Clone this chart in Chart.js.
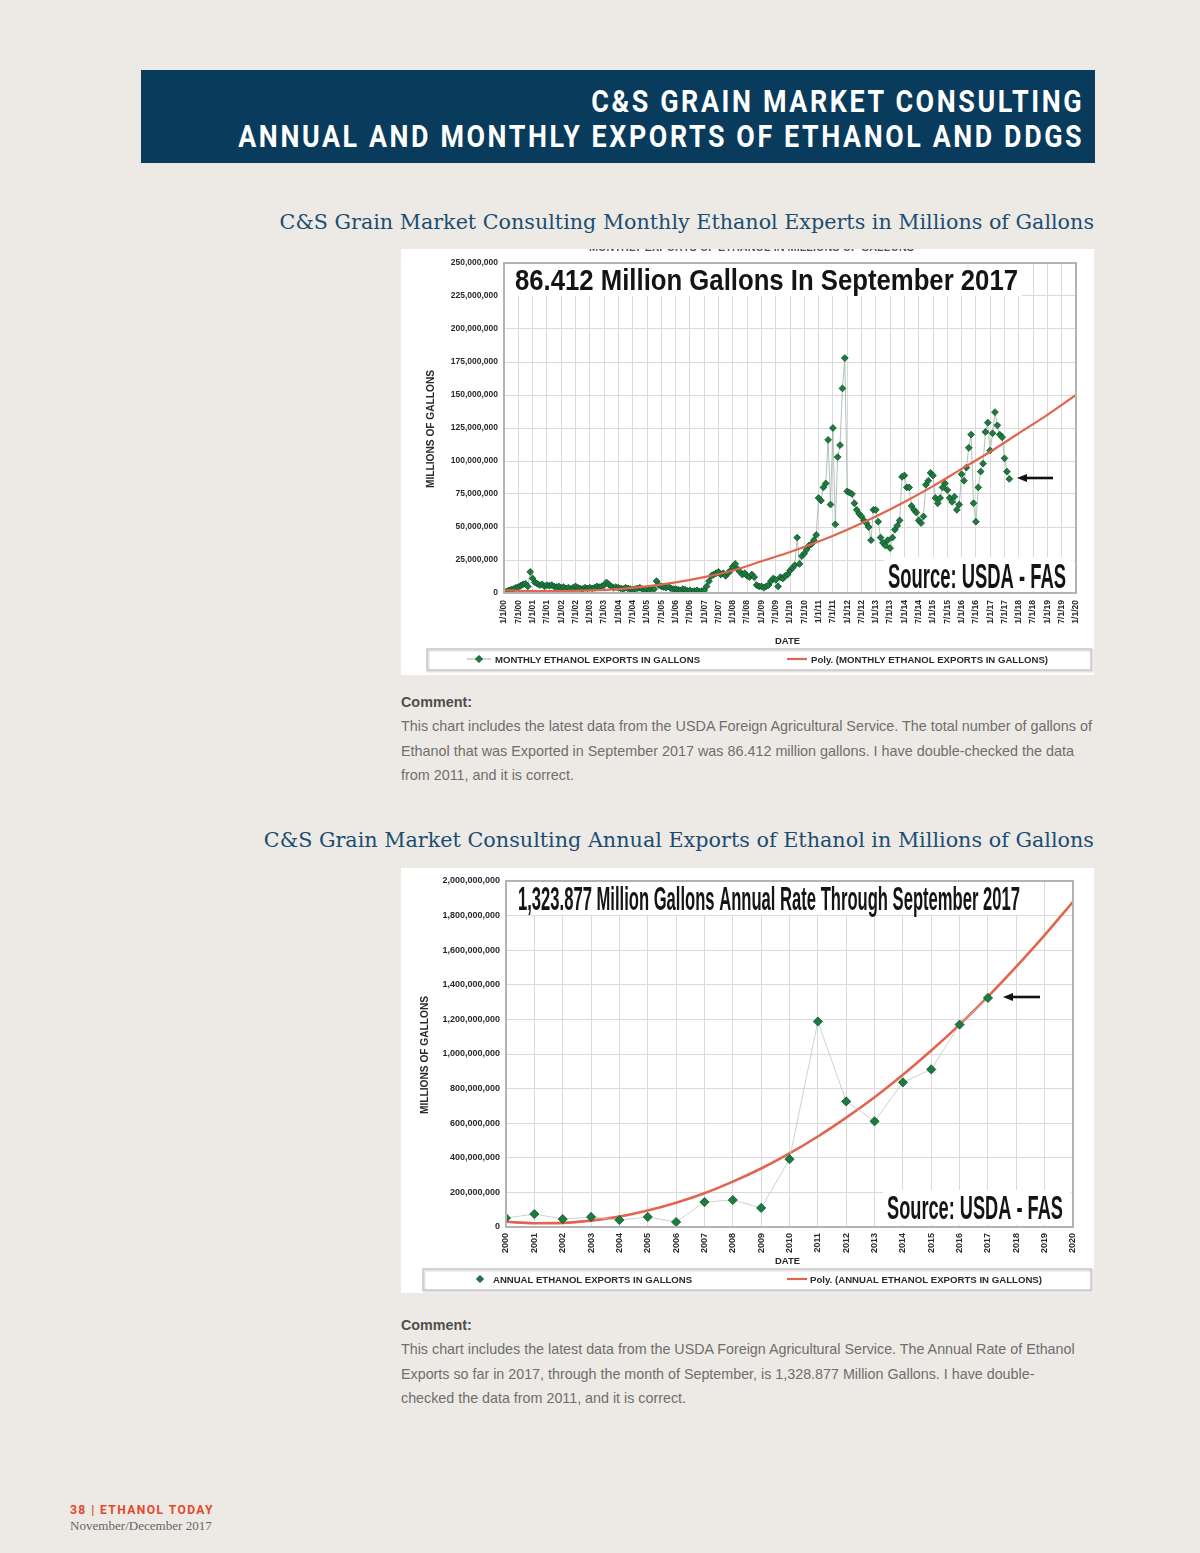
<!DOCTYPE html>
<html lang="en">
<head>
<meta charset="utf-8">
<title>Annual and Monthly Exports of Ethanol and DDGS</title>
<script src="https://cdn.jsdelivr.net/npm/chart.js@4.4.1/dist/chart.umd.min.js"></script>
<style>
  html, body { margin: 0; padding: 0; }
  body { width: 1200px; height: 1553px; background: #edeae5; position: relative; overflow: hidden; }
  .banner { position: absolute; left: 141px; top: 70px; width: 954px; height: 93px; background: #083b5c; }
  .banner div { position: absolute; right: 11px; color: #fff; font: 700 31px/31px Roboto, "Liberation Sans", sans-serif; letter-spacing: 3px; white-space: nowrap; transform-origin: 100% 50%; }
  .sect { position: absolute; right: 106px; color: #1b4d72; font-family: "DejaVu Serif", serif; line-height: 1; white-space: nowrap; }
  .box { position: absolute; left: 401px; width: 693px; background: #fff; }
  .box canvas { display: block; }
  .cm { position: absolute; left: 401px; color: #6e6e6e; font-family: "Liberation Sans", Arial, sans-serif; line-height: 1; white-space: nowrap; }
  .cm.b { color: #4e4e4e; font-weight: 700; }
  .foot1 { position: absolute; left: 70px; color: #e2482a; font: 700 13px/1 Roboto, sans-serif; letter-spacing: 1.5px; white-space: nowrap; transform-origin: 0 50%; }
  .foot2 { position: absolute; left: 70px; color: #666; font-family: "Liberation Serif", serif; line-height: 1; white-space: nowrap; }
</style>
</head>
<body>
<div class="banner">
  <div id="h1">C&amp;S GRAIN MARKET CONSULTING</div>
  <div id="h2">ANNUAL AND MONTHLY EXPORTS OF ETHANOL AND DDGS</div>
</div>

<div class="sect" id="t1">C&amp;S Grain Market Consulting Monthly Ethanol Experts in Millions of Gallons</div>
<div class="box" style="top:249px;height:426px"><canvas id="monthly" width="693" height="426"></canvas></div>
<div class="cm b" id="c1h">Comment:</div>
<div class="cm c1" id="c1a">This chart includes the latest data from the USDA Foreign Agricultural Service. The total number of gallons of</div>
<div class="cm c1" id="c1b">Ethanol that was Exported in September 2017 was 86.412 million gallons. I have double-checked the data</div>
<div class="cm c1" id="c1c">from 2011, and it is correct.</div>

<div class="sect" id="t2">C&amp;S Grain Market Consulting Annual Exports of Ethanol in Millions of Gallons</div>
<div class="box" style="top:868px;height:425px"><canvas id="annual" width="693" height="425"></canvas></div>
<div class="cm b" id="c2h">Comment:</div>
<div class="cm c2" id="c2a">This chart includes the latest data from the USDA Foreign Agricultural Service. The Annual Rate of Ethanol</div>
<div class="cm c2" id="c2b">Exports so far in 2017, through the month of September, is 1,328.877 Million Gallons. I have double-</div>
<div class="cm c2" id="c2c">checked the data from 2011, and it is correct.</div>

<div class="foot1" id="f1">38 | ETHANOL TODAY</div>
<div class="foot2" id="f2">November/December 2017</div>

<script>
/* --------------- Monthly chart data (millions of gallons) --------------- */
const monthLabels = [
  "1/1/00", "7/1/00", "1/1/01", "7/1/01", "1/1/02", "7/1/02", "1/1/03", "7/1/03",
  "1/1/04", "7/1/04", "1/1/05", "7/1/05", "1/1/06", "7/1/06", "1/1/07", "7/1/07",
  "1/1/08", "7/1/08", "1/1/09", "7/1/09", "1/1/10", "7/1/10", "1/1/11", "7/1/11",
  "1/1/12", "7/1/12", "1/1/13", "7/1/13", "1/1/14", "7/1/14", "1/1/15", "7/1/15",
  "1/1/16", "7/1/16", "1/1/17", "7/1/17", "1/1/18", "7/1/18", "1/1/19", "7/1/19",
  "1/1/20",
];
const monthlyYLabels = ["0", "25,000,000", "50,000,000", "75,000,000", "100,000,000", "125,000,000",
  "150,000,000", "175,000,000", "200,000,000", "225,000,000", "250,000,000"];
// Jan 2000 .. Sep 2017, one row per year
const monthlyExports = [
  1.5, 1, 2, 2.5, 3, 4, 4.5, 5.5, 6.5, 7, 5, 16,
  11, 8, 7, 6, 6.5, 5, 6, 5.5, 6, 5, 4.5, 5,
  4, 4.5, 3.5, 4, 3, 4, 5, 4, 3.5, 3, 4, 3.5,
  4, 3.5, 4, 5, 4.5, 5, 6, 8, 6.5, 5, 4, 4.5,
  4, 3.5, 3, 4, 3.5, 3, 2.5, 3, 3.5, 4, 3, 2.5,
  3, 2.5, 3.5, 3, 9, 6, 5, 4.5, 4, 5, 3.5, 3,
  3, 2.5, 2, 3, 2.5, 1.5, 2, 1, 1.5, 2, 1, 1.5,
  2, 5, 9, 13, 14, 15, 16, 14, 15, 13, 15, 17,
  20, 22, 18, 16, 14, 15, 13, 12, 14, 12, 6, 5,
  5, 4, 5, 6, 9, 11, 10, 5, 12, 11, 13, 14,
  17, 19, 21, 42, 22, 28, 30, 33, 36, 37, 40, 44,
  72, 70, 80, 83, 116, 67, 125, 52, 103, 112, 155, 178,
  77, 76, 75, 68, 63, 60, 58, 55, 53, 50, 40, 63,
  63, 54, 42, 38, 36, 40, 34, 42, 48, 51, 55, 88,
  89, 80, 80, 66, 63, 61, 55, 53, 58, 82, 85, 91,
  89, 72, 68, 72, 80, 83, 78, 72, 69, 73, 63, 67,
  90, 85, 95, 110, 120, 68, 54, 80, 92, 98, 122, 129,
  108, 121, 137, 127, 120, 118, 102, 92, 86.412,
];
// polynomial trend, at each January 2000..2020
const monthlyTrend = [2, 1.5, 1.5, 2, 3, 5, 8, 12, 17, 24, 31, 39, 48, 58, 69, 81, 94, 107, 121, 135, 150];

/* --------------- Annual chart data (millions of gallons) --------------- */
const years = ["2000", "2001", "2002", "2003", "2004", "2005", "2006", "2007", "2008", "2009", "2010",
  "2011", "2012", "2013", "2014", "2015", "2016", "2017", "2018", "2019", "2020"];
const annualYLabels = ["0", "200,000,000", "400,000,000", "600,000,000", "800,000,000", "1,000,000,000",
  "1,200,000,000", "1,400,000,000", "1,600,000,000", "1,800,000,000", "2,000,000,000"];
const annualExports = [52, 75, 46, 58, 40, 58, 29, 144, 156, 110, 392, 1188, 726, 611, 836, 911, 1170, 1323.877];
const annualTrend = [30, 22, 24, 37, 60, 95, 140, 195, 262, 338, 425, 523, 632, 750, 880, 1020, 1170, 1332, 1505, 1687, 1880];

/* --------------- Page text fitting --------------- */
const wOf = (el) => el.getBoundingClientRect().width;
const $ = (id) => document.getElementById(id);
function setBase(el, baseline, fs) { el.style.top = (baseline - 0.846 * fs) + "px"; }
function fitFont(el, target, base) {
  el.style.fontSize = base + "px";
  const fs = base * target / wOf(el);
  el.style.fontSize = fs + "px";
  return fs;
}
function squeeze(el, target) { el.style.transform = "scaleX(" + (target / wOf(el)) + ")"; }

squeeze($("h1"), 493); setBase($("h1"), 42, 31);
squeeze($("h2"), 846); setBase($("h2"), 77, 31);

setBase($("t1"), 230, fitFont($("t1"), 815, 20));
setBase($("t2"), 848, fitFont($("t2"), 831, 20));

let fs1 = fitFont($("c1a"), 691, 13);
["c1b", "c1c", "c1h"].forEach((id) => ($(id).style.fontSize = fs1 + "px"));
setBase($("c1h"), 707, fs1); setBase($("c1a"), 731, fs1); setBase($("c1b"), 756, fs1); setBase($("c1c"), 780, fs1);

let fs2 = fitFont($("c2a"), 674, 13);
["c2b", "c2c", "c2h"].forEach((id) => ($(id).style.fontSize = fs2 + "px"));
setBase($("c2h"), 1330, fs2); setBase($("c2a"), 1354, fs2); setBase($("c2b"), 1379, fs2); setBase($("c2c"), 1403, fs2);

squeeze($("f1"), 144); setBase($("f1"), 1514, 13);
setBase($("f2"), 1530, fitFont($("f2"), 142, 13));

/* --------------- Canvas helpers --------------- */
function fitText(ctx, text, x, y, w, font, color) {
  ctx.save();
  ctx.font = font;
  ctx.fillStyle = color || "#111";
  ctx.textAlign = "left";
  ctx.textBaseline = "alphabetic";
  const m = ctx.measureText(text).width;
  ctx.translate(x, y);
  ctx.scale(w / m, 1);
  ctx.fillText(text, 0, 0);
  ctx.restore();
}
function fitTextUp(ctx, text, cx, cy, w, font, color) {
  ctx.save();
  ctx.font = font;
  ctx.fillStyle = color || "#222";
  const m = ctx.measureText(text).width;
  ctx.translate(cx, cy);
  ctx.rotate(-Math.PI / 2);
  ctx.scale(w / m, 1);
  ctx.textAlign = "center";
  ctx.textBaseline = "middle";
  ctx.fillText(text, 0, 0);
  ctx.restore();
}
function arrowLeft(ctx, tail, head, y) {
  ctx.save();
  ctx.strokeStyle = "#111";
  ctx.fillStyle = "#111";
  ctx.lineWidth = 2.6;
  ctx.beginPath(); ctx.moveTo(tail, y); ctx.lineTo(head + 6, y); ctx.stroke();
  ctx.beginPath(); ctx.moveTo(head, y); ctx.lineTo(head + 10, y - 4); ctx.lineTo(head + 10, y + 4); ctx.closePath(); ctx.fill();
  ctx.restore();
}
function legendBox(ctx, x1, x2, y1, y2) {
  ctx.save();
  ctx.strokeStyle = "#e2e2e2"; ctx.lineWidth = 3;
  ctx.strokeRect(x1 + 1, y1 + 1, x2 - x1, y2 - y1);
  ctx.strokeStyle = "#c4c4c4"; ctx.lineWidth = 1.2;
  ctx.strokeRect(x1, y1, x2 - x1, y2 - y1);
  ctx.restore();
}
function diamond(ctx, x, y, r) {
  ctx.save();
  ctx.fillStyle = "#1c7c40"; ctx.strokeStyle = "#0f4f26"; ctx.lineWidth = 1;
  ctx.beginPath(); ctx.moveTo(x, y - r); ctx.lineTo(x + r, y); ctx.lineTo(x, y + r); ctx.lineTo(x - r, y); ctx.closePath();
  ctx.fill(); ctx.stroke();
  ctx.restore();
}
function segment(ctx, x1, x2, y, color, width) {
  ctx.save();
  ctx.strokeStyle = color; ctx.lineWidth = width;
  ctx.beginPath(); ctx.moveTo(x1, y); ctx.lineTo(x2, y); ctx.stroke();
  ctx.restore();
}

/* --------------- Decorations drawn on each chart --------------- */
function decor(spec) {
  return {
    id: "decor",
    beforeDatasetsDraw(chart) {
      const { ctx, chartArea: a } = chart;
      ctx.save();
      ctx.fillStyle = "#fff";
      ctx.fillRect(a.left + 1, a.top + 1, spec.titleBox - a.left, spec.titleBottom - a.top);
      ctx.fillRect(spec.srcBox[0], spec.srcBox[1], spec.srcBox[2], spec.srcBox[3]);
      ctx.restore();
    },
    afterDraw(chart) {
      const { ctx, chartArea: a } = chart;
      ctx.save();
      ctx.strokeStyle = "#b3b3b3"; ctx.lineWidth = 2;
      ctx.strokeRect(a.left, a.top, a.right - a.left, a.bottom - a.top);
      ctx.restore();
      if (spec.topText) fitText(ctx, spec.topText, 188, 2, 325, "bold 10px 'Liberation Sans'", "#555");
      fitText(ctx, spec.title[0], spec.title[1], spec.title[2], spec.title[3], spec.title[4], "#141414");
      fitText(ctx, "Source: USDA - FAS", spec.src[0], spec.src[1], spec.src[2], spec.src[3], "#141414");
      arrowLeft(ctx, spec.arrow[0], spec.arrow[1], spec.arrow[2]);
      fitTextUp(ctx, "MILLIONS OF GALLONS", spec.yTitle[0], spec.yTitle[1], 118, "bold 10px 'Liberation Sans'", "#2a2a2a");
      fitText(ctx, "DATE", 374, spec.dateY, 25, "bold 8.5px 'Liberation Sans'", "#2a2a2a");
      const L = spec.legend;
      legendBox(ctx, L.box[0], L.box[1], L.box[2], L.box[3]);
      if (L.line) segment(ctx, L.line[0], L.line[1], L.y, "#9fb8a6", 1);
      diamond(ctx, L.dot, L.y, 3.5);
      fitText(ctx, L.t1[0], L.t1[1], L.y + 3.5, L.t1[2], "bold 8.5px 'Liberation Sans'", "#2a2a2a");
      segment(ctx, L.red[0], L.red[1], L.y, "#e2654f", 2.2);
      fitText(ctx, L.t2[0], L.t2[1], L.y + 3.5, L.t2[2], "bold 8.5px 'Liberation Sans'", "#2a2a2a");
    },
  };
}

const tickFont = (size) => ({ size: size, weight: "bold", family: "'Liberation Sans', Arial" });

function baseOptions(o) {
  return {
    responsive: false,
    animation: false,
    layout: { padding: { top: o.top, right: o.right, bottom: 0, left: 0 } },
    plugins: { legend: { display: false }, tooltip: { enabled: false } },
    scales: {
      x: {
        type: "linear", min: o.xMin, max: o.xMax,
        ticks: {
          stepSize: o.xStep, autoSkip: false, maxRotation: 90, minRotation: 90,
          padding: o.xPad, color: "#2a2a2a", font: tickFont(o.xFont),
          callback: (v, i) => o.xLabels[i],
        },
        grid: { color: "#dadada", lineWidth: 1, drawTicks: false },
        border: { display: false },
        afterFit: (s) => { s.height = o.xHeight; },
      },
      y: {
        min: 0, max: o.yMax,
        ticks: {
          stepSize: o.yStep, padding: 6, color: "#2a2a2a", font: tickFont(o.yFont),
          callback: (v, i) => o.yLabels[i],
        },
        grid: { color: "#dadada", lineWidth: 1, drawTicks: false },
        border: { display: false },
        afterFit: (s) => { s.width = o.yWidth; },
      },
    },
  };
}

/* --------------- Monthly chart --------------- */
new Chart(document.getElementById("monthly"), {
  type: "scatter",
  data: {
    datasets: [
      {
        label: "Poly. (MONTHLY ETHANOL EXPORTS IN GALLONS)",
        data: monthlyTrend.map((v, i) => ({ x: i * 12, y: v * 1e6 })),
        showLine: true, borderColor: "#e2654f", borderWidth: 2.2,
        pointRadius: 0, cubicInterpolationMode: "monotone", order: 0,
      },
      {
        label: "MONTHLY ETHANOL EXPORTS IN GALLONS",
        data: monthlyExports.map((v, i) => ({ x: i, y: v * 1e6 })),
        showLine: true, borderColor: "rgba(150,175,158,0.75)", borderWidth: 1,
        pointStyle: "rectRot", pointRadius: 3.4,
        pointBackgroundColor: "#1c7c40", pointBorderColor: "#0f4f26", pointBorderWidth: 0.8,
        order: 1,
      },
    ],
  },
  options: baseOptions({
    top: 14, right: 18, xMin: 0, xMax: 240, xStep: 6, xLabels: monthLabels, xPad: 7, xFont: 8.5, xHeight: 82,
    yMax: 250e6, yStep: 25e6, yLabels: monthlyYLabels, yFont: 8.5, yWidth: 103,
  }),
  plugins: [decor({
    topText: "MONTHLY EXPORTS OF ETHANOL IN MILLIONS OF GALLONS",
    titleBox: 620, titleBottom: 46,
    srcBox: [483, 308, 190, 34],
    title: ["86.412 Million Gallons In September 2017", 114, 41, 503, "bold 29px 'Liberation Sans'"],
    src: [487, 339, 178, "bold 35px 'Liberation Sans'"],
    arrow: [652, 616, 229],
    yTitle: [30, 180],
    dateY: 395,
    legend: {
      box: [26, 690, 400, 421], y: 410,
      line: [66, 90], dot: 78,
      t1: ["MONTHLY ETHANOL EXPORTS IN GALLONS", 94, 205],
      red: [386, 406],
      t2: ["Poly. (MONTHLY ETHANOL EXPORTS IN GALLONS)", 410, 237],
    },
  })],
});

/* --------------- Annual chart --------------- */
new Chart(document.getElementById("annual"), {
  type: "scatter",
  data: {
    datasets: [
      {
        label: "Poly. (ANNUAL ETHANOL EXPORTS IN GALLONS)",
        data: annualTrend.map((v, i) => ({ x: 2000 + i, y: v * 1e6 })),
        showLine: true, borderColor: "#e2654f", borderWidth: 2.6,
        pointRadius: 0, cubicInterpolationMode: "monotone", order: 1,
      },
      {
        label: "ANNUAL ETHANOL EXPORTS IN GALLONS",
        data: annualExports.map((v, i) => ({ x: 2000 + i, y: v * 1e6 })),
        showLine: true, borderColor: "rgba(190,200,194,0.8)", borderWidth: 1,
        pointStyle: "rectRot", pointRadius: 4.6,
        pointBackgroundColor: "#1c7c40", pointBorderColor: "#11552a", pointBorderWidth: 0.8,
        order: 0,
      },
    ],
  },
  options: baseOptions({
    top: 13, right: 21, xMin: 2000, xMax: 2020, xStep: 1, xLabels: years, xPad: 6, xFont: 9, xHeight: 66,
    yMax: 2e9, yStep: 2e8, yLabels: annualYLabels, yFont: 9, yWidth: 105,
  }),
  plugins: [decor({
    titleBox: 622, titleBottom: 46,
    srcBox: [482, 322, 188, 35],
    title: ["1,323.877 Million Gallons Annual Rate Through September 2017", 117, 42, 502, "bold 33px 'Liberation Sans'"],
    src: [486, 351, 176, "bold 34px 'Liberation Sans'"],
    arrow: [639, 602, 129],
    yTitle: [24, 187],
    dateY: 396,
    legend: {
      box: [22, 690, 401, 422], y: 411,
      line: null, dot: 79,
      t1: ["ANNUAL ETHANOL EXPORTS IN GALLONS", 92, 199],
      red: [386, 406],
      t2: ["Poly. (ANNUAL ETHANOL EXPORTS IN GALLONS)", 409, 232],
    },
  })],
});
</script>
</body>
</html>
